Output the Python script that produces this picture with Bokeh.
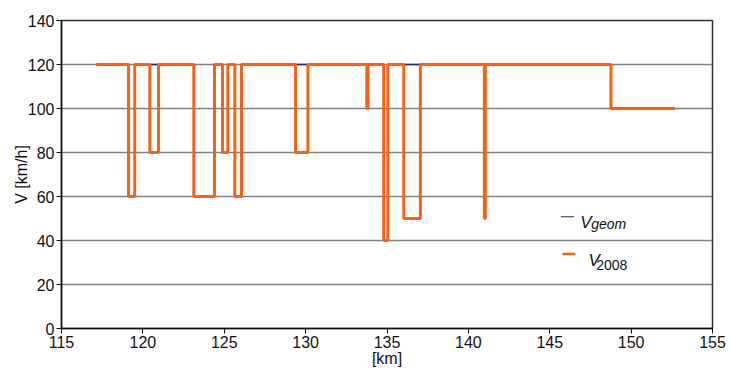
from bokeh.plotting import figure
from bokeh.models import Range1d, Label, FixedTicker
from bokeh.embed import file_html
from bokeh.resources import INLINE

# V2008 speed profile (step start km, speed)
km_2008 = [117.15, 119.12, 119.50, 120.43, 120.96, 123.13, 124.40, 124.89, 125.22,
           125.65, 126.06, 129.38, 130.14, 133.76, 133.84, 134.80, 135.05, 136.03,
           137.05, 140.98, 141.04, 148.76, 152.67]
v_2008 = [120, 60, 120, 80, 120, 60, 120, 80, 120, 60, 120, 80, 120, 100, 120,
          40, 120, 50, 120, 50, 120, 100, 100]

# Vgeom speed profile
km_geom = [117.15, 119.12, 119.50, 123.13, 124.40, 124.89, 125.22, 125.65, 126.06,
           133.76, 133.84, 134.80, 135.05, 140.98, 141.04, 148.76, 152.67]
v_geom = [120, 60, 120, 60, 120, 80, 120, 60, 120, 100, 120, 40, 120, 50, 120, 100, 100]

x_ticks = [115, 120, 125, 130, 135, 140, 145, 150, 155]
y_ticks = [0, 20, 40, 60, 80, 100, 120, 140]

FONT = "Liberation Sans"
ORANGE = "#f0651a"
NAVY = "#232a6e"

p = figure(width=732, height=370, x_range=Range1d(115, 155), y_range=Range1d(0, 140),
           output_backend="svg", toolbar_location=None,
           min_border_left=61, min_border_right=20, min_border_top=20, min_border_bottom=42)

p.step(km_geom, v_geom, mode="after", line_color=NAVY, line_width=1.5)
p.step(km_2008, v_2008, mode="after", line_color=ORANGE, line_width=3)

for ax in (p.xaxis[0], p.yaxis[0]):
    ax.major_label_text_font = FONT
    ax.major_label_text_font_size = "16px"
    ax.major_label_text_color = "#111111"
    ax.axis_line_color = "#111111"
    ax.axis_line_width = 1.5
    ax.major_tick_line_color = "#111111"
    ax.major_tick_in = 0
    ax.major_tick_out = 5
    ax.minor_tick_line_color = None
    ax.major_label_standoff = 2
    ax.axis_label_text_font = FONT
    ax.axis_label_text_font_style = "normal"
    ax.axis_label_text_color = "#111111"
    ax.axis_label_text_font_size = "16px"

p.xaxis[0].ticker = FixedTicker(ticks=x_ticks)
p.yaxis[0].ticker = FixedTicker(ticks=y_ticks)
p.xaxis[0].axis_label = "[km]"
p.xaxis[0].axis_label_standoff = -1
p.yaxis[0].axis_label = "V [km/h]"
p.yaxis[0].axis_label_standoff = -5

p.xgrid.grid_line_color = None
p.ygrid.ticker = FixedTicker(ticks=y_ticks)
p.ygrid.grid_line_color = "#808080"
p.ygrid.grid_line_width = 1.5

p.outline_line_color = "#333333"
p.outline_line_width = 1.5
p.background_fill_color = "white"
p.border_fill_color = "white"

# legend
p.line([145.68, 146.5], [50.8, 50.8], line_color=NAVY, line_width=1.2)
p.add_layout(Label(x=146.87, y=48.2, text="V", text_font=FONT, text_font_size="17px",
                   text_font_style="italic", text_baseline="alphabetic", text_color="#111111"))
p.add_layout(Label(x=147.55, y=47.5, text="geom", text_font=FONT, text_font_size="14px",
                   text_font_style="italic", text_baseline="alphabetic", text_color="#111111"))
p.line([145.78, 146.57], [33.85, 33.85], line_color=ORANGE, line_width=2.5)
p.add_layout(Label(x=147.38, y=30.8, text="V", text_font=FONT, text_font_size="17px",
                   text_font_style="italic", text_baseline="alphabetic", text_color="#111111"))
p.add_layout(Label(x=147.85, y=29.0, text="2008", text_font=FONT, text_font_size="14px",
                   text_baseline="alphabetic", text_color="#111111"))

open("out.html", "w").write(file_html(p, INLINE))
